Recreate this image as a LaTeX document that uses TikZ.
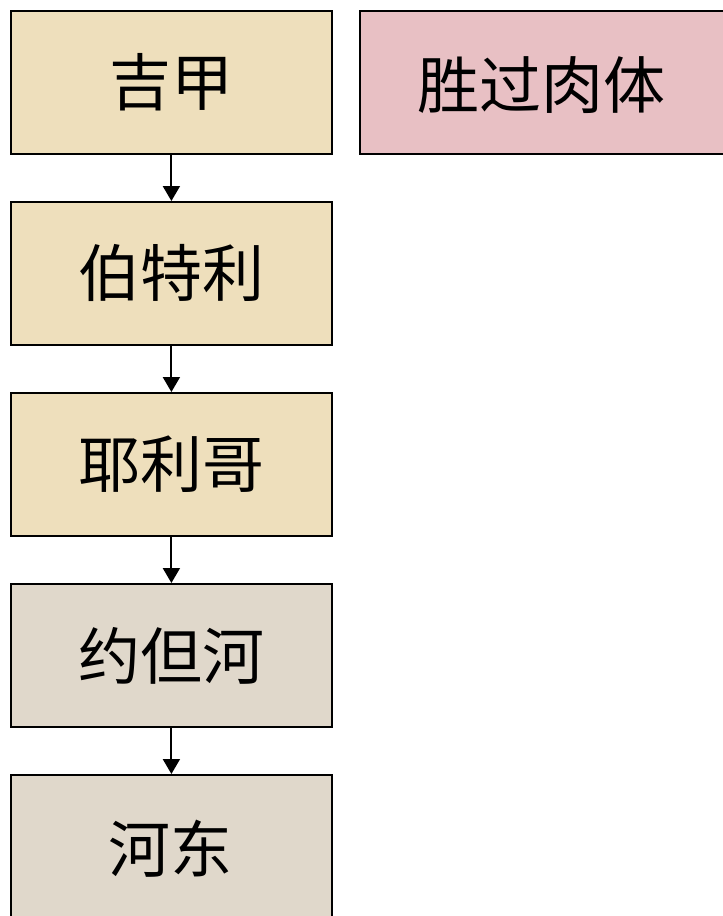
\documentclass[tikz,border=0pt]{standalone}
\usepackage{fontspec}
\newfontfamily\cjk{Noto Sans CJK SC}
\usetikzlibrary{arrows.meta}
\definecolor{parch}{HTML}{EEDFBC}
\definecolor{stone}{HTML}{E0D8CB}
\definecolor{rose}{HTML}{E8C0C4}
\tikzset{
  box/.style={draw=black, line width=1.8pt, anchor=north west, minimum width=321pt, minimum height=143pt, inner sep=0pt, font=\cjk\fontsize{62}{62}\selectfont, text=black},
  lbl/.style={font=\cjk\fontsize{62}{62}\selectfont, text=black, inner sep=0pt},
  conn/.style={-{Triangle[length=15pt,width=17pt]}, line width=2pt}
}
\newcommand{\lw}[1]{\raisebox{-4pt}{#1}}
\begin{document}
\begin{tikzpicture}[x=1pt,y=-1pt]
\useasboundingbox (0,0) rectangle (723,916);
\clip (0,0) rectangle (723,916);
\node[box, fill=parch] (a) at (10,10) {\lw{吉甲}};
\node[box, fill=parch] (b) at (10,201) {\lw{伯特利}};
\node[box, fill=parch] (c) at (10,392) {\lw{耶利哥}};
\node[box, fill=stone] (d) at (10,583) {\lw{约但河}};
\node[box, fill=stone, minimum height=160pt] (e) at (10,774) {};
\node[lbl] (et) at (170.5,849) {河东};
\node[box, fill=rose, minimum width=380pt] (r) at (359,10) {};
\node[lbl] (rt) at (541,85.5) {胜过肉体};
\draw[conn] (a.south) -- (b.north);
\draw[conn] (b.south) -- (c.north);
\draw[conn] (c.south) -- (d.north);
\draw[conn] (d.south) -- (e.north);
\end{tikzpicture}
\end{document}
